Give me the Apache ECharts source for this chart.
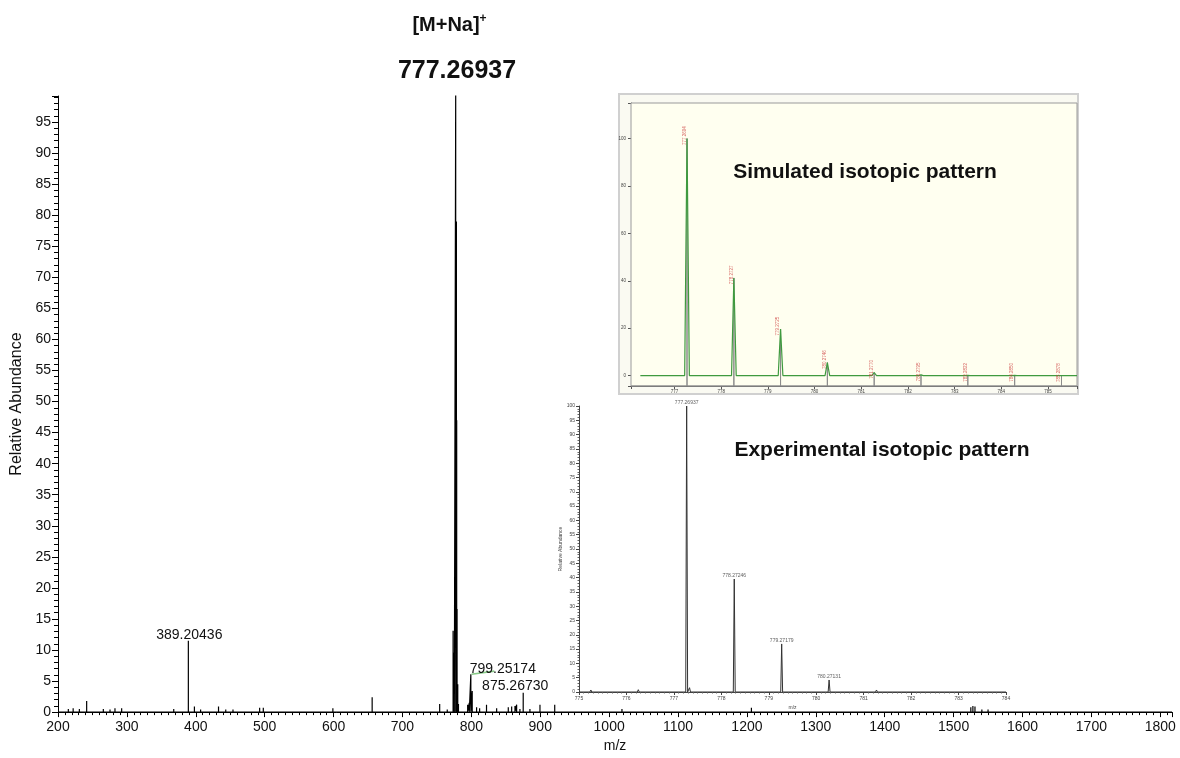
<!DOCTYPE html>
<html><head><meta charset="utf-8">
<script src="https://cdn.jsdelivr.net/npm/echarts@6/dist/echarts.min.js"></script>
<style>html,body{margin:0;padding:0;background:#fff}#c{width:1180px;height:758px}</style>
</head><body><div id="c"></div>
<script>
// ---------- DATA ----------
// Main full-scan spectrum (m/z, relative abundance)
const mainMz = [215,222,231,241.6,253.7,265.8,275.5,282.7,292.4,314,329.5,341,368,389.20436,398,407,433,443.5,454,472,492.7,498,520,545,599,614.5,640,656,674,690,718,740,754,765,773.5,775.3,777.26937,778.27,778.7,779.27,780.27,781.3,794.6,797,799.25174,801.25,807.6,812,822,836.7,853.6,858.5,863.3,865.7,870.5,875.2673,885,899.6,921,950,1018.6,1100,1206.5,1300,1525,1528,1531,1541,1550,1600];
const mainInt = [0.5,0.6,0.5,1.8,0.3,0.5,0.4,0.6,0.6,0.3,0.3,0.3,0.5,11.5,0.9,0.4,0.9,0.4,0.4,0.2,0.7,0.7,0.2,0.2,0.6,0.3,0.2,2.4,0.3,0.3,0.2,0.3,1.3,0.4,13.1,9.6,100,79,47,16.6,4.5,1.3,1.2,1.5,6.1,3.4,0.8,0.6,1.2,0.6,0.8,0.9,1.0,1.2,0.5,3.1,0.5,1.2,1.2,0.2,0.5,0.2,0.7,0.2,0.8,1.0,0.9,0.4,0.4,0.2];
const mainLabelMz = [389.20436, 799.25174, 875.26730];
const mainLabelInt = [11.5, 6.1, 3.1];
const mainXTicks = [200,300,400,500,600,700,800,900,1000,1100,1200,1300,1400,1500,1600,1700,1800];
const mainYTicks = [0,5,10,15,20,25,30,35,40,45,50,55,60,65,70,75,80,85,90,95];

// Simulated isotopic pattern
const simMz  = [777.2694,778.2727,779.2725,780.2746,781.2770,782.2795,783.2822,784.2850,785.2878];
const simInt = [100,41.2,19.6,5.5,1.3,0.3,0.1,0.05,0.02];

// Experimental isotopic pattern
const expMz  = [775.25,776.25,777.26937,777.33,778.27246,779.27179,780.27131,781.27];
const expInt = [0.7,0.8,100,1.5,39.5,16.8,4.2,0.7];
const expLabelMz  = [777.26937,778.27246,779.27179,780.27131];
const expLabelInt = [100,39.5,16.8,4.2];

// ---------- HELPERS ----------
function order(mz){ return mz.map((m,i)=>i).sort((a,b)=>mz[a]-mz[b]); }
function sticks(mz, ints, lo, hi, base){
  const pts=[[lo,base]];
  order(mz).forEach(i=>{ pts.push([mz[i],base],[mz[i],ints[i]],[mz[i],base]); });
  pts.push([hi,base]); return pts;
}
function profile(mz, ints, hw, lo, hi){
  const pts=[[lo,0]];
  order(mz).forEach(i=>{ pts.push([mz[i]-hw,0],[mz[i],ints[i]],[mz[i]+hw,0]); });
  pts.push([hi,0]); return pts;
}
const FF = 'Liberation Sans, Arial, sans-serif';

const chart = echarts.init(document.getElementById('c'));
const labelOffsets = [[1,3],[32,4],[-8,2]];

const option = {
  animation:false,
  backgroundColor:'#fff',
  grid:[
    {left:58, top:96, right:8, bottom:45},
    {left:631, top:103, right:103, bottom:372, show:true, backgroundColor:'#fffff0', borderColor:'#9a9a9a', borderWidth:1, z:1},
    {left:579, top:406, right:174, bottom:66}
  ],
  xAxis:[
    {gridIndex:0, type:'value', min:200, max:1817, interval:100,
     axisLine:{lineStyle:{color:'#000',width:1}},
     axisTick:{length:5,lineStyle:{color:'#000'}},
     minorTick:{show:true,splitNumber:10,length:3,lineStyle:{color:'#000'}},
     splitLine:{show:false},
     axisLabel:{fontSize:14,color:'#111',fontFamily:FF,margin:8,
       formatter:v=>mainXTicks.includes(v)?String(v):''},
     name:'m/z', nameLocation:'middle', nameGap:24, nameTextStyle:{fontSize:14,color:'#111',fontFamily:FF}},
    {gridIndex:1, type:'value', min:776.07, max:785.62, splitNumber:9,
     axisLine:{onZero:false,lineStyle:{color:'#555',width:1}},
     axisTick:{length:3,lineStyle:{color:'#555'}},
     splitLine:{show:false},
     axisLabel:{fontSize:4.5,color:'#444',fontFamily:FF,margin:3,
       formatter:v=>Number.isInteger(v)?String(v):''}},
    {gridIndex:2, type:'value', min:775, max:784, interval:1,
     axisLine:{lineStyle:{color:'#444',width:1}},
     axisTick:{length:3,lineStyle:{color:'#444'}},
     minorTick:{show:true,splitNumber:10,length:1.5,lineStyle:{color:'#666'}},
     splitLine:{show:false},
     axisLabel:{fontSize:5,color:'#444',fontFamily:FF,margin:4},
     name:'m/z', nameLocation:'middle', nameGap:13, nameTextStyle:{fontSize:5,color:'#444',fontFamily:FF}}
  ],
  yAxis:[
    {gridIndex:0, type:'value', min:0, max:99.2, interval:5,
     axisLine:{show:true,lineStyle:{color:'#000',width:1}},
     axisTick:{show:true,length:6,lineStyle:{color:'#000'}},
     minorTick:{show:true,splitNumber:5,length:4,lineStyle:{color:'#000'}},
     splitLine:{show:false},
     axisLabel:{fontSize:14,color:'#111',fontFamily:FF,margin:7,
       formatter:v=>mainYTicks.includes(v)?String(v):''},
     name:'Relative Abundance', nameLocation:'middle', nameGap:33, nameRotate:90,
     nameTextStyle:{fontSize:16,color:'#111',fontFamily:FF}},
    {gridIndex:1, type:'value', min:-4.4, max:115, splitNumber:6,
     axisLine:{show:true,lineStyle:{color:'#555',width:1}},
     axisTick:{show:true,length:3,lineStyle:{color:'#555'}},
     splitLine:{show:false},
     axisLabel:{fontSize:4.5,color:'#444',fontFamily:FF,margin:5,
       formatter:v=>(v>=0 && v%20===0)?String(v):''}},
    {gridIndex:2, type:'value', min:0, max:100, interval:5,
     axisLine:{show:true,lineStyle:{color:'#444',width:1}},
     axisTick:{show:true,length:3,lineStyle:{color:'#444'}},
     minorTick:{show:true,splitNumber:5,length:1.5,lineStyle:{color:'#666'}},
     splitLine:{show:false},
     axisLabel:{fontSize:5,color:'#444',fontFamily:FF,margin:4},
     name:'Relative Abundance', nameLocation:'middle', nameGap:13, nameRotate:90,
     nameTextStyle:{fontSize:5,color:'#444',fontFamily:FF}}
  ],
  graphic:[
    {type:'rect', z:0, shape:{x:619,y:94,width:459,height:300},
     style:{fill:'#fafaf2',stroke:'#d0d0d0',lineWidth:2}},
    {type:'text', z:100, x:446, y:25, style:{text:'[M+Na]',font:'bold 20px '+FF,fill:'#111',textAlign:'center',textVerticalAlign:'middle'}},
    {type:'text', z:100, x:483, y:19, style:{text:'+',font:'bold 12px '+FF,fill:'#111',textAlign:'center',textVerticalAlign:'middle'}},
    {type:'text', z:100, x:457, y:71, style:{text:'777.26937',font:'bold 25px '+FF,fill:'#111',textAlign:'center',textVerticalAlign:'middle'}},
    {type:'text', z:100, x:865, y:172, style:{text:'Simulated isotopic pattern',font:'bold 21px '+FF,fill:'#111',textAlign:'center',textVerticalAlign:'middle'}},
    {type:'text', z:100, x:882, y:450, style:{text:'Experimental isotopic pattern',font:'bold 21px '+FF,fill:'#111',textAlign:'center',textVerticalAlign:'middle'}}
  ],
  series:[
    {type:'line', xAxisIndex:0, yAxisIndex:0, symbol:'none', z:3,
     lineStyle:{color:'#000',width:1.2}, data:sticks(mainMz,mainInt,200,1817,0)},
    {type:'scatter', xAxisIndex:0, yAxisIndex:0, symbolSize:0, z:4,
     data:mainLabelMz.map((m,i)=>({value:[m,mainLabelInt[i]], label:{offset:labelOffsets[i]}})),
     label:{show:true,position:'top',distance:2,fontSize:14,color:'#111',opacity:1,fontFamily:FF,
       formatter:p=>p.value[0].toFixed(5)}},
    {type:'line', xAxisIndex:0, yAxisIndex:0, symbol:'none', z:3,
     lineStyle:{color:'#86c986',width:1.6},
     data:[[mainLabelMz[1]+1,mainLabelInt[1]],[mainLabelMz[1]+34,mainLabelInt[1]+0.5]]},
    {type:'line', xAxisIndex:1, yAxisIndex:1, symbol:'none', z:3,
     lineStyle:{color:'#8c8c8c',width:1}, data:sticks(simMz,simInt,776.07,785.62,-4.4)},
    {type:'line', xAxisIndex:1, yAxisIndex:1, symbol:'none', z:4,
     lineStyle:{color:'#3f9a3f',width:1.2}, data:profile(simMz,simInt,0.05,776.27,785.62)},
    {type:'scatter', xAxisIndex:1, yAxisIndex:1, symbolSize:0, z:5,
     data:simMz.map((m,i)=>[m,simInt[i]]),
     label:{show:true,position:'top',distance:3,rotate:90,fontSize:4.5,color:'#cc3b3b',fontFamily:FF,
       formatter:p=>p.value[0].toFixed(4)}},
    {type:'line', xAxisIndex:2, yAxisIndex:2, symbol:'none', z:3,
     lineStyle:{color:'#333',width:1}, data:profile(expMz,expInt,0.02,775,784)},
    {type:'scatter', xAxisIndex:2, yAxisIndex:2, symbolSize:0, z:5,
     data:expLabelMz.map((m,i)=>[m,expLabelInt[i]]),
     label:{show:true,position:'top',distance:1,fontSize:5,color:'#333',fontFamily:FF,
       formatter:p=>p.value[0].toFixed(5)}}
  ]
};
chart.setOption(option);
</script>
</body></html>
